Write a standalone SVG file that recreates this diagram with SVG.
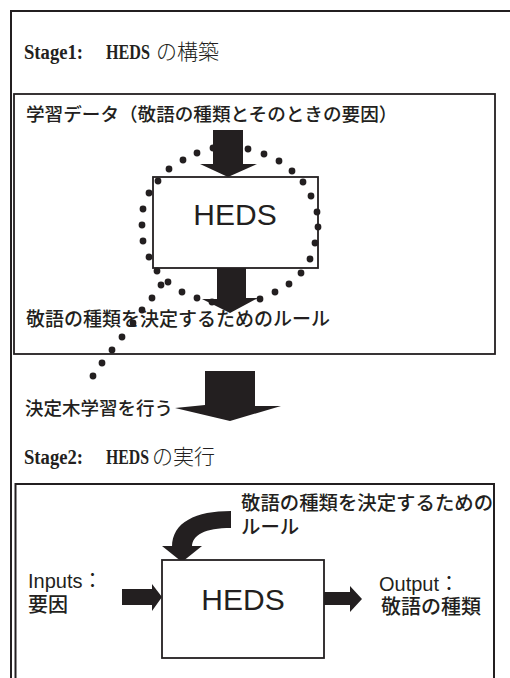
<svg xmlns="http://www.w3.org/2000/svg" width="510" height="678" viewBox="0 0 510 678">
  <style>
    .frame { fill: none; stroke: #231f20; stroke-width: 2; }
    .box { fill: #ffffff; stroke: #231f20; stroke-width: 1.8; }
    .arrow { fill: #231f20; stroke: none; }
    .dot { fill: #231f20; }
    .jp { font-family: "Noto Sans CJK JP", "Liberation Sans", sans-serif; font-weight: 500; fill: #231f20; }
    .lat { font-family: "Liberation Sans", "Noto Sans CJK JP", sans-serif; fill: #231f20; }
    .stage { font-family: "Liberation Serif", serif; font-weight: bold; font-size: 20px; fill: #231f20; }
    .stagejp { font-family: "Noto Sans CJK JP", sans-serif; font-weight: 300; font-size: 21px; fill: #231f20; }
    .heds { font-family: "Liberation Sans", sans-serif; font-size: 30px; fill: #231f20; text-anchor: middle; }
  </style>
  <rect x="0" y="0" width="510" height="678" fill="#ffffff"/>

  <!-- outer frame -->
  <g id="outer-frame">
    <path class="frame" d="M11,690 L11,11 L520,11"/>
  </g>

  <!-- Stage 1 -->
  <g id="stage1-title">
    <text class="stage" x="24" y="59" textLength="59" lengthAdjust="spacingAndGlyphs">Stage1:</text>
    <text class="stage" x="106" y="59" textLength="44" lengthAdjust="spacingAndGlyphs">HEDS</text>
    <text class="stagejp" x="156" y="59">の構築</text>
  </g>

  <g id="stage1-box">
    <rect class="box" x="14" y="94" width="481" height="260"/>
  </g>

  <g id="training-data-label">
    <text class="jp" x="26" y="121" font-size="18.6">学習データ（敬語の種類とそのときの要因）</text>
  </g>

  <g id="heds1">
    <rect class="box" x="153" y="177" width="165" height="91"/>
    <text class="heds" x="235" y="225">HEDS</text>
  </g>

  <g id="dotted-loop">
    <circle class="dot" cx="157" cy="271" r="3.4"/>
    <circle class="dot" cx="149" cy="257" r="3.4"/>
    <circle class="dot" cx="143" cy="241" r="3.4"/>
    <circle class="dot" cx="142" cy="225" r="3.4"/>
    <circle class="dot" cx="143" cy="209" r="3.4"/>
    <circle class="dot" cx="149" cy="193" r="3.4"/>
    <circle class="dot" cx="158" cy="181" r="3.4"/>
    <circle class="dot" cx="169" cy="169" r="3.4"/>
    <circle class="dot" cx="183" cy="160" r="3.4"/>
    <circle class="dot" cx="197" cy="153" r="3.4"/>
    <circle class="dot" cx="213" cy="148" r="3.4"/>
    <circle class="dot" cx="248" cy="149" r="3.4"/>
    <circle class="dot" cx="264" cy="154" r="3.4"/>
    <circle class="dot" cx="279" cy="161" r="3.4"/>
    <circle class="dot" cx="292" cy="171" r="3.4"/>
    <circle class="dot" cx="303" cy="182" r="3.4"/>
    <circle class="dot" cx="311" cy="196" r="3.4"/>
    <circle class="dot" cx="317" cy="212" r="3.4"/>
    <circle class="dot" cx="318" cy="227" r="3.4"/>
    <circle class="dot" cx="315" cy="243" r="3.4"/>
    <circle class="dot" cx="310" cy="259" r="3.4"/>
    <circle class="dot" cx="301" cy="273" r="3.4"/>
    <circle class="dot" cx="289" cy="284" r="3.4"/>
    <circle class="dot" cx="275" cy="292" r="3.4"/>
    <circle class="dot" cx="260" cy="299" r="3.4"/>
    <circle class="dot" cx="212" cy="302" r="3.4"/>
    <circle class="dot" cx="197" cy="298" r="3.4"/>
    <circle class="dot" cx="182" cy="292" r="3.4"/>
    <circle class="dot" cx="168" cy="282" r="3.4"/>
    <circle class="dot" cx="161" cy="285" r="3.4"/>
    <circle class="dot" cx="152" cy="298" r="3.4"/>
    <circle class="dot" cx="142" cy="310" r="3.4"/>
    <circle class="dot" cx="133" cy="323" r="3.4"/>
    <circle class="dot" cx="122" cy="337" r="3.4"/>
    <circle class="dot" cx="112" cy="350" r="3.4"/>
    <circle class="dot" cx="102" cy="363" r="3.4"/>
    <circle class="dot" cx="93" cy="376" r="3.4"/>
  </g>

  <g id="connectors">
    <!-- training data -> HEDS -->
    <polygon class="arrow" points="213,130 243,130 243,164 257,164 228,177 200,164 213,164"/>
    <!-- HEDS -> rules -->
    <polygon class="arrow" points="217,268 246,268 246,298 258,298 230,313 202,299 217,299"/>
    <!-- stage1 -> stage2 big arrow -->
    <polygon class="arrow" points="205,371 255,371 255,406 281,406 230,421 175,408 205,405"/>
    <!-- rules -> HEDS (curved) -->
    <path class="arrow" d="M231,511 C196,511 172,522 172,547 L192,547 C192,535 205,528 231,528 Z"/>
    <polygon class="arrow" points="162,546 202,546 182,562"/>
    <!-- inputs -> HEDS -->
    <polygon class="arrow" points="122,589 152,589 152,584 162,597 152,611 152,605 122,605"/>
    <!-- HEDS -> output -->
    <polygon class="arrow" points="323,592 350,592 350,586 362,599 350,612 350,605 323,605"/>
  </g>

  <g id="rules-label">
    <text class="jp" x="26" y="326" font-size="19">敬語の種類を決定するためのルール</text>
  </g>

  <g id="decision-tree-label">
    <text class="jp" x="25" y="415" font-size="18.5">決定木学習を行う</text>
  </g>

  <!-- Stage 2 -->
  <g id="stage2-title">
    <text class="stage" x="24" y="464" textLength="59" lengthAdjust="spacingAndGlyphs">Stage2:</text>
    <text class="stage" x="106" y="464" textLength="43" lengthAdjust="spacingAndGlyphs">HEDS</text>
    <text class="stagejp" x="152" y="464">の実行</text>
  </g>

  <g id="stage2-box">
    <path class="frame" d="M15.5,690 L15.5,484 L494,484 L494,690"/>
  </g>

  <g id="heds2">
    <rect class="box" x="162" y="560" width="162" height="98"/>
    <text class="heds" x="243" y="610" font-size="31">HEDS</text>
  </g>

  <g id="rules-label2">
    <text class="jp" x="241" y="510" font-size="19.4">敬語の種類を決定するための</text>
    <text class="jp" x="241" y="534" font-size="19.4">ルール</text>
  </g>

  <g id="inputs-label">
    <text class="lat" x="28" y="588" font-size="20">Inputs：</text>
    <text class="jp" x="28" y="612" font-size="20">要因</text>
  </g>

  <g id="output-label">
    <text class="lat" x="379" y="591" font-size="20">Output：</text>
    <text class="jp" x="381" y="614" font-size="20">敬語の種類</text>
  </g>
</svg>
